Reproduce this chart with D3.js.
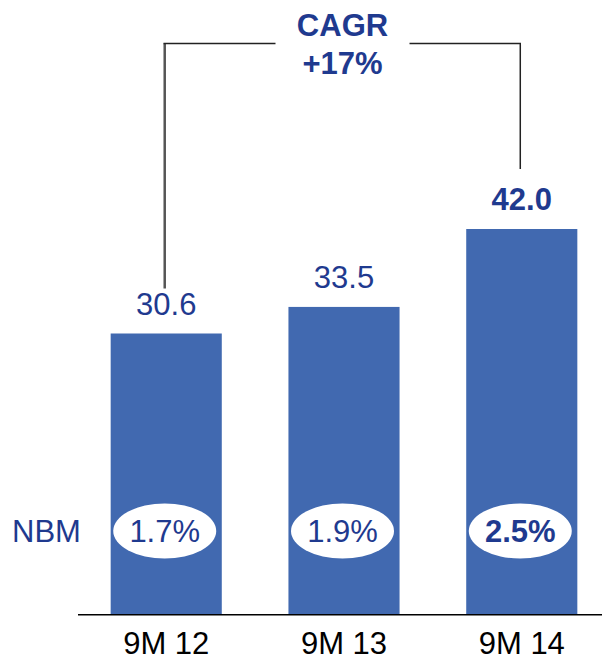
<!DOCTYPE html>
<html>
<head>
<meta charset="utf-8">
<script src="https://cdn.jsdelivr.net/npm/d3@7"></script>
<style>
  html, body { margin: 0; padding: 0; background: #fff; }
  svg { display: block; font-family: "Liberation Sans", Arial, sans-serif; }
</style>
</head>
<body>
<svg id="chart" width="602" height="660"></svg>
<script>
// Net business margin chart data
const categories = ["9M 12", "9M 13", "9M 14"];
const values = [30.6, 33.5, 42.0];
const valueLabels = ["30.6", "33.5", "42.0"];
const nbmLabels = ["1.7%", "1.9%", "2.5%"];
const highlight = [false, false, true];
const cagrLines = ["CAGR", "+17%"];
const rowLabel = "NBM";

const barColor = "#4169b0";
const textColor = "#1f3a8f";

const svg = d3.select("#chart");

const x = d3.scaleBand()
  .domain(categories)
  .range([44, 644])
  .padding(0.375);

const y = d3.scaleLinear()
  .domain([0, 42])
  .range([614, 229]);

const center = d => x(d) + x.bandwidth() / 2;

// bars
svg.selectAll("rect.bar")
  .data(categories)
  .join("rect")
  .attr("class", "bar")
  .attr("x", d => x(d))
  .attr("width", x.bandwidth())
  .attr("y", (d, i) => y(values[i]))
  .attr("height", (d, i) => y(0) - y(values[i]))
  .attr("fill", barColor);

// baseline
svg.append("line")
  .attr("x1", 78).attr("x2", 602)
  .attr("y1", y(0) + 0.75).attr("y2", y(0) + 0.75)
  .attr("stroke", "#000").attr("stroke-width", 1.5);

// category axis labels
const xAxis = d3.axisBottom(x).tickSize(0).tickPadding(0);
const gx = svg.append("g").attr("transform", `translate(0,${y(0)})`).call(xAxis);
gx.select(".domain").remove();
gx.selectAll("text")
  .attr("dy", null)
  .attr("y", 39.5)
  .attr("fill", "#000")
  .style("font-size", "31px")
  .style("font-family", "'Liberation Sans', Arial, sans-serif");

// value labels above bars
svg.selectAll("text.val")
  .data(categories)
  .join("text")
  .attr("class", "val")
  .attr("x", center)
  .attr("y", (d, i) => y(values[i]) - 19)
  .attr("text-anchor", "middle")
  .attr("fill", textColor)
  .attr("font-size", 31)
  .attr("font-weight", (d, i) => highlight[i] ? "bold" : "normal")
  .text((d, i) => valueLabels[i]);

// NBM ellipses
const nbmY = 531;
svg.selectAll("ellipse.nbm")
  .data(categories)
  .join("ellipse")
  .attr("class", "nbm")
  .attr("cx", d => center(d) - 1.5)
  .attr("cy", nbmY)
  .attr("rx", 51.5)
  .attr("ry", 27.5)
  .attr("fill", "#fff");

svg.selectAll("text.nbm")
  .data(categories)
  .join("text")
  .attr("class", "nbm")
  .attr("x", d => center(d) - 1.5)
  .attr("y", 541.5)
  .attr("text-anchor", "middle")
  .attr("fill", textColor)
  .attr("font-size", 31)
  .attr("font-weight", (d, i) => highlight[i] ? "bold" : "normal")
  .text((d, i) => nbmLabels[i]);

svg.append("text")
  .attr("x", 12)
  .attr("y", 541.5)
  .attr("fill", textColor)
  .attr("font-size", 31)
  .text(rowLabel);

// CAGR bracket
const cx0 = center(categories[0]) - 1.5;
const cx1 = center(categories[2]) - 1.5;
const topY = 43.5;
const midX = (cx0 + cx1) / 2;
const gapHalf = 67;

svg.append("line")
  .attr("x1", cx0).attr("x2", cx0)
  .attr("y1", topY).attr("y2", y(values[0]) - 45)
  .attr("stroke", "#555").attr("stroke-width", 2.5);
svg.append("line")
  .attr("x1", cx0 - 1.25).attr("x2", midX - gapHalf)
  .attr("y1", topY).attr("y2", topY)
  .attr("stroke", "#222").attr("stroke-width", 1.5);
svg.append("path")
  .attr("d", d3.line()([[midX + gapHalf, topY], [cx1, topY], [cx1, y(values[2]) - 60]]))
  .attr("fill", "none").attr("stroke", "#222").attr("stroke-width", 1.5);

svg.selectAll("text.cagr")
  .data(cagrLines)
  .join("text")
  .attr("class", "cagr")
  .attr("x", midX)
  .attr("y", (d, i) => 36 + i * 38)
  .attr("text-anchor", "middle")
  .attr("fill", textColor)
  .attr("font-size", 31)
  .attr("font-weight", "bold")
  .text(d => d);
</script>
</body>
</html>
